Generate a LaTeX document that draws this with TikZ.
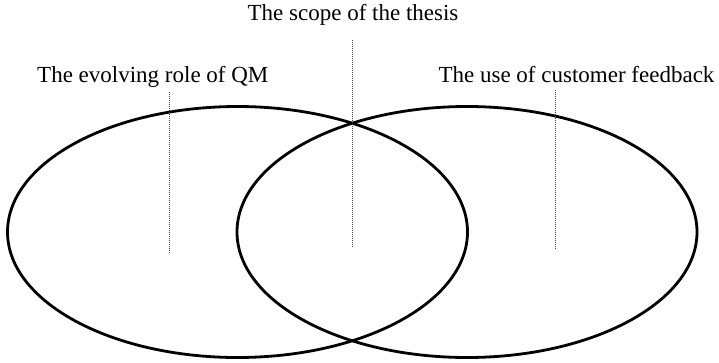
\documentclass[tikz,border=0pt]{standalone}
\usepackage{fontspec}
\setmainfont{Liberation Serif}
\begin{document}
\begin{tikzpicture}[x=1pt,y=-1pt,
  setline/.style={line width=2.8pt, black},
  guide/.style={line width=0.9pt, black!75, dash pattern=on 1pt off 1pt},
  lbl/.style={font=\fontsize{23}{27}\selectfont, anchor=base, inner sep=0pt}]
\useasboundingbox (0,0) rectangle (719,362);
% sets
\draw[setline] (237.5,232) ellipse [x radius=230, y radius=125.5];
\draw[setline] (467,232) ellipse [x radius=230, y radius=125.5];
% labels
\node[lbl] (scope) at (353,20) {The scope of the thesis};
\node[lbl, anchor=base west] (qm) at (37,82) {The evolving role of QM};
\node[lbl] (cf) at (576.5,82) {The use of customer feedback};
% guide lines
\coordinate (scopeT) at (352,40);
\coordinate (scopeB) at (352,248);
\coordinate (qmT) at (169,92);
\coordinate (qmB) at (169,253);
\coordinate (cfT) at (555,90);
\coordinate (cfB) at (555,249);
\draw[guide] (scopeT) -- (scopeB);
\draw[guide] (qmT) -- (qmB);
\draw[guide] (cfT) -- (cfB);
\end{tikzpicture}
\end{document}
